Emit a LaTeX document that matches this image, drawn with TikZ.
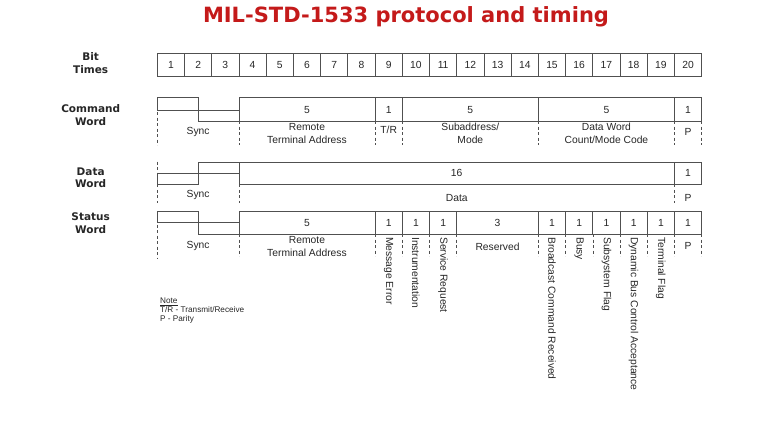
\documentclass[tikz,border=0pt]{standalone}
\usepackage{fontspec}
\setmainfont{Liberation Sans}
\newfontfamily\titlefont{DejaVu Sans}
\usepackage{tikz}
\usetikzlibrary{positioning}
\definecolor{milred}{HTML}{C41A1A}
\definecolor{milline}{HTML}{505050}
\definecolor{miltext}{HTML}{262626}

\begin{document}
\begin{tikzpicture}[
    x=1pt,y=-1pt,
    heading/.style = {font=\titlefont\bfseries\fontsize{21}{25}\selectfont,text=milred},
    rowlbl/.style  = {font=\titlefont\bfseries\fontsize{10.5}{12.5}\selectfont,
                      text=miltext,align=center},
    bitcell/.style = {rectangle,draw=milline,line width=0.7pt,minimum width=27.22pt,
                      minimum height=23.4pt,inner sep=0pt,
                      font=\fontsize{10.3}{12}\selectfont,text=miltext},
    wire/.style    = {milline,line width=0.7pt},
    guide/.style   = {milline,line width=0.6pt,dash pattern=on 3pt off 2.5pt},
    fld/.style     = {font=\fontsize{10.3}{13}\selectfont,text=miltext,align=center,
                      inner sep=0pt},
    vfld/.style    = {fld,rotate=-90,anchor=west},
    notetxt/.style = {font=\fontsize{8.2}{9}\selectfont,text=miltext,align=left,
                      inner sep=0pt,anchor=north west},
  ]
  \useasboundingbox (0,0) rectangle (768,439);

  \node[heading] (title) at (406,16.5) {MIL-STD-1533 protocol and timing};

  % row labels
  \node[rowlbl] (lblbit) at (90.7,63.3)  {Bit\\Times};
  \node[rowlbl] (lblcmd) at (90.7,115)   {Command\\Word};
  \node[rowlbl] (lbldat) at (90.7,177.5) {Data\\Word};
  \node[rowlbl] (lblsta) at (90.7,223)   {Status\\Word};

  % bit times
  \foreach \i in {1,...,20}
    \node[bitcell] (bit\i) at ({157.3+(\i-0.5)*27.22},65) {\i};

  \begin{scope}[shift={(157.3,0)},x=27.22pt]

    % command word
    \draw[wire] (0,110) -- (0,97.7) -- (1.5,97.7) -- (1.5,121) -- (3,121);
    \draw[wire] (0,110) -- (3,110);
    \draw[wire] (3,97.7) rectangle (20,121);
    \foreach \d in {8,9,14,19}
      \draw[wire] (\d,97.7) -- (\d,121);
    \draw[guide] (0,112) -- (0,145);
    \foreach \d in {3,8,9,14,19,20}
      \draw[guide] (\d,121) -- (\d,145);
    \node[fld] (cmdn1) at (5.5,110)  {5};
    \node[fld] (cmdn2) at (8.5,110)  {1};
    \node[fld] (cmdn3) at (11.5,110) {5};
    \node[fld] (cmdn4) at (16.5,110) {5};
    \node[fld] (cmdn5) at (19.5,110) {1};
    \node[fld] (cmdsync) at (1.5,132)  {Sync};
    \node[fld] (cmdrta)  at (5.5,133.4)  {Remote\\Terminal Address};
    \node[fld] (cmdtr)   at (8.5,130)  {T/R};
    \node[fld] (cmdsa)   at (11.5,133.4) {Subaddress/\\Mode};
    \node[fld] (cmdwc)   at (16.5,133.4) {Data Word\\Count/Mode Code};
    \node[fld] (cmdp)    at (19.5,132) {P};

    % data word
    \draw[wire] (0,173.3) -- (0,184.3) -- (1.5,184.3) -- (1.5,162.3) -- (3,162.3);
    \draw[wire] (0,173.3) -- (3,173.3);
    \draw[wire] (3,162.3) rectangle (20,184.3);
    \draw[wire] (19,162.3) -- (19,184.3);
    \draw[guide] (0,161.7) -- (0,173.3);
    \foreach \d in {0,3,19}
      \draw[guide] (\d,184.3) -- (\d,203);
    \node[fld] (datn1) at (11,173.3)   {16};
    \node[fld] (datn2) at (19.5,173.3) {1};
    \node[fld] (datsync) at (1.5,195) {Sync};
    \node[fld] (datdat)  at (11,198)  {Data};
    \node[fld] (datp)    at (19.5,198) {P};

    % status word
    \draw[wire] (0,222.7) -- (0,211.7) -- (1.5,211.7) -- (1.5,234) -- (3,234);
    \draw[wire] (0,222.7) -- (3,222.7);
    \draw[wire] (3,211.7) rectangle (20,234);
    \foreach \d in {8,9,10,11,14,15,16,17,18,19}
      \draw[wire] (\d,211.7) -- (\d,234);
    \draw[guide] (0,224.7) -- (0,258);
    \foreach \d in {3,8,9,10,11,14,15,16,17,18,19,20}
      \draw[guide] (\d,234) -- (\d,256);
    \node[fld] (stan1) at (5.5,222.7)  {5};
    \node[fld] (stan2) at (12.5,222.7) {3};
    \foreach \c in {8.5,9.5,10.5,14.5,15.5,16.5,17.5,18.5,19.5}
      \node[fld] (stab\c) at (\c,222.7) {1};
    \node[fld] (stasync) at (1.5,246)   {Sync};
    \node[fld] (starta)  at (5.5,246.5) {Remote\\Terminal Address};
    \node[fld] (stares)  at (12.5,246.7) {Reserved};
    \node[fld] (stap)    at (19.5,246)  {P};
    \node[vfld] (stame) at (8.5,237)  {Message Error};
    \node[vfld] (stain) at (9.5,237)  {Instrumentation};
    \node[vfld] (stasr) at (10.5,237) {Service Request};
    \node[vfld] (stabc) at (14.5,237) {Broadcast Command Received};
    \node[vfld] (stabu) at (15.5,237) {Busy};
    \node[vfld] (stass) at (16.5,237) {Subsystem Flag};
    \node[vfld] (stadb) at (17.5,237) {Dynamic Bus Control Acceptance};
    \node[vfld] (statf) at (18.5,237) {Terminal Flag};
  \end{scope}

  \node[notetxt] (note) at (160,298)
       {\underline{Note}\\T/R - Transmit/Receive\\P - Parity};

\end{tikzpicture}
\end{document}
